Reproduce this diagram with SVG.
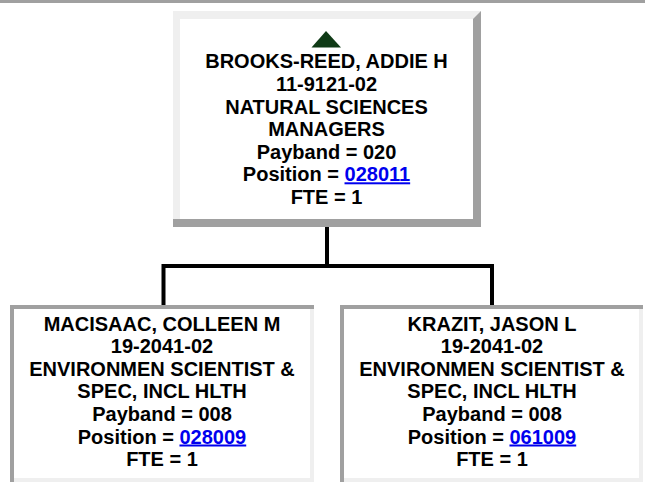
<svg xmlns="http://www.w3.org/2000/svg" width="645" height="486" viewBox="0 0 645 486">
<style>
text{font-family:"Liberation Sans",Arial,sans-serif;font-size:20px;font-weight:bold;fill:#000;text-anchor:middle}
.lnk{fill:#0000ee;text-decoration:underline}
.lt{fill:#efefef}
.dk{fill:#a0a0a0}
.in{fill:#fff}
.conn{fill:none;stroke:#000;stroke-width:4;stroke-linejoin:miter}
</style>
<rect x="0" y="0" width="645" height="3" class="dk"/>
<g id="connectors">
<path class="conn" d="M327,227 V266"/>
<path class="conn" d="M163.5,305 V266 H492 V305"/>
</g>
<g id="node-brooks-reed">
<rect x="173" y="11" width="308" height="216" class="lt"/>
<polygon points="481,11 481,227 173,227 173,219 473,219 473,19" class="dk"/>
<rect x="180" y="19" width="293" height="200" class="in"/>
<polygon points="326,31 341,47.5 311.5,47.5" fill="#0f3a16"/>
<text x="326.5" y="68.3">BROOKS-REED, ADDIE H</text>
<text x="326.5" y="90.9">11-9121-02</text>
<text x="326.5" y="113.5">NATURAL SCIENCES</text>
<text x="326.5" y="136.1">MANAGERS</text>
<text x="326.5" y="158.7">Payband = 020</text>
<text x="326.5" y="181.3">Position = <tspan class="lnk">028011</tspan></text>
<text x="326.5" y="203.9">FTE = 1</text>
</g>
<g id="node-macisaac">
<rect x="10" y="305" width="304" height="177" class="lt"/>
<polygon points="10,305 314,305 314,309 14,309 14,482 10,482" class="dk"/>
<rect x="14" y="309" width="296" height="169" class="in"/>
<text x="162" y="330.5">MACISAAC, COLLEEN M</text>
<text x="162" y="353.1">19-2041-02</text>
<text x="162" y="375.7">ENVIRONMEN SCIENTIST &amp;</text>
<text x="162" y="398.3">SPEC, INCL HLTH</text>
<text x="162" y="420.9">Payband = 008</text>
<text x="162" y="443.5">Position = <tspan class="lnk">028009</tspan></text>
<text x="162" y="466.1">FTE = 1</text>
</g>
<g id="node-krazit">
<rect x="340" y="305" width="303" height="177" class="lt"/>
<polygon points="340,305 643,305 643,309 344,309 344,482 340,482" class="dk"/>
<rect x="344" y="309" width="295" height="169" class="in"/>
<text x="492" y="330.5">KRAZIT, JASON L</text>
<text x="492" y="353.1">19-2041-02</text>
<text x="492" y="375.7">ENVIRONMEN SCIENTIST &amp;</text>
<text x="492" y="398.3">SPEC, INCL HLTH</text>
<text x="492" y="420.9">Payband = 008</text>
<text x="492" y="443.5">Position = <tspan class="lnk">061009</tspan></text>
<text x="492" y="466.1">FTE = 1</text>
</g>
</svg>
